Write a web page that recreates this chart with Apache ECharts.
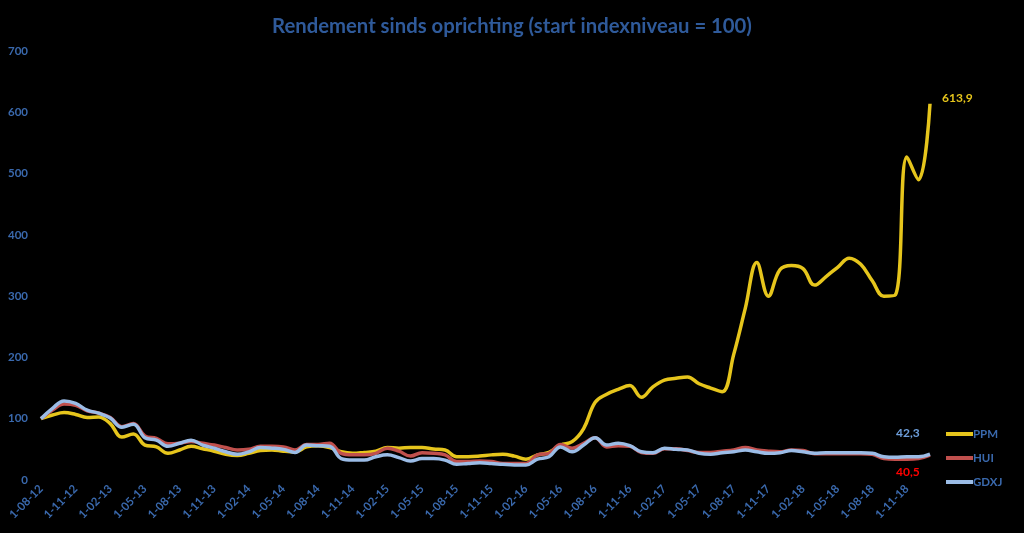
<!DOCTYPE html>
<html>
<head>
<meta charset="utf-8">
<script src="https://cdn.jsdelivr.net/npm/echarts@6/dist/echarts.min.js"></script>
<style>
html,body{margin:0;padding:0;background:#000;}
#chart{width:1024px;height:533px;}
</style>
</head>
<body>
<div id="chart"></div>
<script>
var categories = [
"1-08-12","1-09-12","1-10-12","1-11-12","1-12-12","1-01-13","1-02-13","1-03-13","1-04-13","1-05-13","1-06-13","1-07-13",
"1-08-13","1-09-13","1-10-13","1-11-13","1-12-13","1-01-14","1-02-14","1-03-14","1-04-14","1-05-14","1-06-14","1-07-14",
"1-08-14","1-09-14","1-10-14","1-11-14","1-12-14","1-01-15","1-02-15","1-03-15","1-04-15","1-05-15","1-06-15","1-07-15",
"1-08-15","1-09-15","1-10-15","1-11-15","1-12-15","1-01-16","1-02-16","1-03-16","1-04-16","1-05-16","1-06-16","1-07-16",
"1-08-16","1-09-16","1-10-16","1-11-16","1-12-16","1-01-17","1-02-17","1-03-17","1-04-17","1-05-17","1-06-17","1-07-17",
"1-08-17","1-09-17","1-10-17","1-11-17","1-12-17","1-01-18","1-02-18","1-03-18","1-04-18","1-05-18","1-06-18","1-07-18",
"1-08-18","1-09-18","1-10-18","1-11-18","1-12-18","1-01-19"
];
var ppm = [
100,106,110,107,102,103,92,70,75,57,54,43.5,
49,55,51,47,42,40,43.5,48,49,47,46,54,
56,53,46,43.5,45,47,53,52,53,53,50.5,49,
38,38,39,41,42,39,34,41,45,57,62.5,84,
127,140,148,154,135,152,163,166,168,157,150,144,
205,280,355,300,343,350,345,318,332,347,362,352,
325,300,302,527,490,613.9
];
var hui = [
100,114,124,122,113,109,102,87,92,72,68,59,
60,63,60,57,53,49,50,55,55,54,49,58,
58,60,43.5,41,41,43.5,52,47,39,44.5,43.5,41,
30,30,31,30,27,27,27,41,43.5,58,52,60,
69,54,56,55,45,43.5,51,51,48,45,45,47,
49,53,49,47,46,49,48,43,43,43,43,43,
42,35,34,34,35,40.5
];
var gdxj = [
100,117,129,125,114,109,101,86,91,69,65,55,
60,65,57,52,46,42,46,53,52,50,45,57,
56,55,35,32.5,32.5,38,41,36.5,31,35,35,32.5,
25.6,27,28,27,25.6,24.5,24.5,34,38,54,46,57,
69,57,60,56,46,44.5,52,50,49,43.5,42,44.5,
46,49,46,43.5,44.5,48,46,43.5,44.5,44.5,44.5,44.5,
43.5,38,37,38,38,42.3
];
var yTicks = {min: 0, max: 700, interval: 100};

var FONT = 'Lato';
var LABEL_BLUE = '#3a69ad';
var C_PPM = '#e6c51c', C_HUI = '#c0504d', C_GDXJ = '#9bbce6';

function fmt(v){ return String(v).replace('.', ','); }

var chart = echarts.init(document.getElementById('chart'), null, {renderer:'canvas'});
chart.setOption({
  backgroundColor: '#000',
  animation: false,
  title: {
    text: 'Rendement sinds oprichting (start indexniveau = 100)',
    left: 'center', top: 11,
    textStyle: {color: '#2f5a9a', fontFamily: FONT, fontWeight: 'bold', fontSize: 20.3}
  },
  legend: {
    orient: 'vertical', left: 941, top: 423, itemGap: 12,
    itemWidth: 27, itemHeight: 4, icon: 'rect',
    textStyle: {color: LABEL_BLUE, fontFamily: FONT, fontWeight: 'bold', fontSize: 11.5, padding: [0,0,0,-5]},
    data: ['PPM','HUI','GDXJ']
  },
  grid: {left: 41, right: 94, top: 51, bottom: 53, containLabel: false},
  xAxis: {
    type: 'category', data: categories, boundaryGap: false,
    axisLine: {show: false}, axisTick: {show: false}, splitLine: {show: false},
    axisLabel: {interval: 2, rotate: 45, margin: 7, color: LABEL_BLUE, fontFamily: FONT, fontWeight: 'bold', fontSize: 11.5}
  },
  yAxis: {
    type: 'value', min: yTicks.min, max: yTicks.max, interval: yTicks.interval,
    axisLine: {show: false}, axisTick: {show: false}, splitLine: {show: false},
    axisLabel: {margin: 13, color: LABEL_BLUE, fontFamily: FONT, fontWeight: 'bold', fontSize: 11.5}
  },
  series: [
    {name: 'PPM', type: 'line', data: ppm, smooth: 0.4, showSymbol: false, symbol: 'none',
     lineStyle: {color: C_PPM, width: 3.5}, itemStyle: {color: C_PPM},
     endLabel: {show: true, formatter: function(p){return fmt(p.value);}, offset: [4, -6],
       color: C_PPM, fontFamily: FONT, fontWeight: 'bold', fontSize: 12}},
    {name: 'HUI', type: 'line', data: hui, smooth: 0.4, showSymbol: false, symbol: 'none',
     lineStyle: {color: C_HUI, width: 3.5}, itemStyle: {color: C_HUI},
     endLabel: {show: true, formatter: function(p){return fmt(p.value);}, offset: [-42, 17],
       color: '#ff0000', fontFamily: FONT, fontWeight: 'bold', fontSize: 12}},
    {name: 'GDXJ', type: 'line', data: gdxj, smooth: 0.4, showSymbol: false, symbol: 'none',
     lineStyle: {color: C_GDXJ, width: 3.5}, itemStyle: {color: C_GDXJ},
     endLabel: {show: true, formatter: function(p){return fmt(p.value);}, offset: [-42, -21],
       color: '#6e9fdc', fontFamily: FONT, fontWeight: 'bold', fontSize: 12}}
  ]
});
</script>
</body>
</html>
